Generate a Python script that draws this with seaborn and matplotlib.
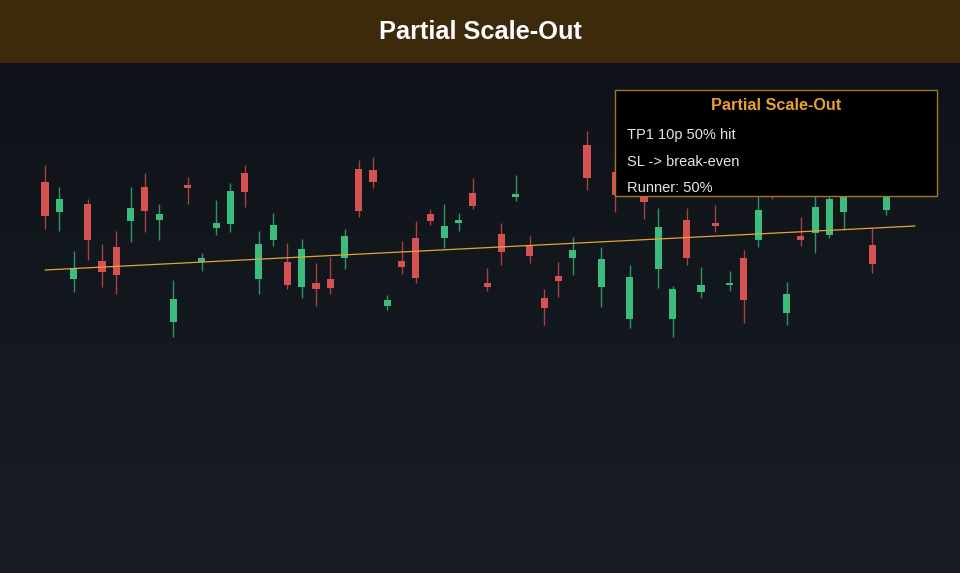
import numpy as np
import pandas as pd
import matplotlib
matplotlib.use("Agg")
import matplotlib.pyplot as plt
from matplotlib.patches import Rectangle
from matplotlib.colors import LinearSegmentedColormap
import seaborn as sns

# ---- data (price units) ----
opens = [111.8, 108.8, 102.1, 109.6, 103.9, 105.3, 107.9, 111.3, 108.0, 97.8,
         111.5, 103.8, 107.2, 107.6, 112.7, 102.1, 106.0, 103.8, 101.3, 101.7,
         102.1, 104.2, 113.1, 113.0, 99.4, 103.9, 106.2, 108.6, 106.2, 107.7,
         110.7, 101.7, 106.6, 110.3, 105.5, 100.2, 102.4, 104.2, 115.5, 101.3,
         112.8, 98.1, 111.0, 103.1, 98.1, 108.0, 100.8, 107.7, 101.5, 104.2,
         106.0, 113.5, 98.7, 106.4, 106.7, 106.5, 108.8, 116.0, 105.5, 109.0,
         113.0, 116.5]
closes = [108.4, 110.1, 103.2, 106.0, 102.8, 102.5, 109.2, 108.9, 108.6, 100.1,
          111.2, 104.2, 107.7, 110.9, 110.8, 105.6, 107.5, 101.5, 105.1, 101.1,
          101.2, 106.4, 108.9, 111.8, 100.0, 103.3, 102.2, 107.9, 107.4, 108.0,
          109.4, 101.3, 104.8, 110.6, 104.4, 99.2, 101.9, 105.0, 112.2, 104.1,
          110.5, 102.3, 109.8, 107.3, 101.1, 104.2, 101.5, 107.4, 101.7, 100.0,
          109.0, 111.2, 100.6, 106.0, 109.3, 110.1, 111.5, 113.5, 103.6, 111.2,
          115.5, 114.0]
highs = [113.5, 111.3, 104.9, 110.1, 105.6, 106.9, 111.3, 112.7, 109.6, 102.0,
         112.3, 104.7, 110.0, 111.7, 113.5, 106.9, 108.7, 105.7, 106.1, 103.7,
         104.3, 107.1, 114.0, 114.3, 100.5, 105.9, 107.9, 109.1, 109.6, 108.7,
         112.2, 103.2, 107.7, 112.5, 106.4, 101.1, 103.8, 106.3, 116.9, 105.3,
         114.0, 103.5, 112.0, 109.2, 101.4, 109.2, 103.3, 109.5, 102.9, 105.0,
         111.0, 114.5, 101.8, 108.3, 111.0, 110.4, 113.0, 117.5, 107.2, 112.5,
         117.0, 118.0]
lows = [107.1, 106.9, 100.8, 104.0, 101.3, 100.6, 105.8, 106.8, 106.0, 96.3,
        109.6, 102.9, 106.5, 106.8, 109.3, 100.6, 105.4, 101.1, 100.2, 99.4,
        100.6, 103.1, 108.3, 111.2, 99.0, 102.6, 101.7, 107.5, 105.2, 106.9,
        109.1, 100.9, 103.5, 109.9, 103.7, 97.5, 100.3, 102.5, 111.0, 99.3,
        108.8, 97.2, 108.1, 101.2, 96.3, 103.5, 100.2, 106.8, 100.9, 97.7,
        105.3, 110.1, 97.5, 105.4, 104.7, 106.2, 107.0, 112.0, 102.7, 108.5,
        111.5, 112.2]
trend_ends = [103.0, 107.4]  # start / end level of the trend line
chart_title = "Partial Scale-Out"
box_title = "Partial Scale-Out"
box_lines = ["TP1 10p 50% hit", "SL -> break-even", "Runner: 50%"]

df = pd.DataFrame({"open": opens, "high": highs, "low": lows, "close": closes})
df["idx"] = np.arange(len(df))

GREEN = "#3dbd7d"
RED = "#d65252"

sns.set_theme(style="dark")
plt.rcParams["font.family"] = ["Liberation Sans", "DejaVu Sans"]

W, H = 9.6, 5.73
fig = plt.figure(figsize=(W, H), dpi=100)
fig.patch.set_facecolor("#151922")

# header band
hdr = fig.add_axes([0, 1 - 63 / 573, 1, 63 / 573])
hdr.set_axis_off()
hdr.add_patch(Rectangle((0, 0), 1, 1, transform=hdr.transAxes, color="#3d2a0d"))
hdr.text(0.5, 0.49, chart_title, ha="center", va="center", color="white",
         fontsize=18.3, fontweight="bold", transform=hdr.transAxes)

ax = fig.add_axes([0, 0, 1, 1 - 63 / 573])
ax.set_axis_off()
n = len(df)
px = 870 / (n - 1)
xmin = -45 / px
ax.set_xlim(xmin, xmin + 960 / px)
ax.set_ylim(72.7, 123.7)

# background gradient (darker at top, lighter at bottom)
cmap = LinearSegmentedColormap.from_list("bg", ["#0f1319", "#181c25"])
ax.imshow(np.linspace(0, 1, 256).reshape(-1, 1), aspect="auto", cmap=cmap,
          extent=[xmin, xmin + 960 / px, 72.7, 123.7], zorder=0)

for _, r in df.iterrows():
    up = r["close"] >= r["open"]
    c = GREEN if up else RED
    ax.vlines(r["idx"], r["low"], r["high"], color=c, lw=1.0, alpha=0.75, zorder=2)
    lo = min(r["open"], r["close"])
    hgt = max(abs(r["close"] - r["open"]), 0.2)
    ax.add_patch(Rectangle((r["idx"] - 0.25, lo), 0.5, hgt, facecolor=c,
                           edgecolor="none", zorder=3))

trend = pd.DataFrame({"idx": [0, n - 1], "val": trend_ends})
sns.lineplot(data=trend, x="idx", y="val", ax=ax, color="#e6a23a", lw=0.9, zorder=4)
ax.set_xlim(xmin, xmin + 960 / px)
ax.set_ylim(72.7, 123.7)
ax.set_axis_off()

# annotation box (figure pixel coords)
def fx(x):
    return x / 960
def fy(y):
    return 1 - y / 573

fig.patches.append(Rectangle((fx(615), fy(196)), fx(937) - fx(615), fy(90) - fy(196),
                             transform=fig.transFigure, facecolor="black",
                             edgecolor="#a8742a", lw=1.0, zorder=10))
fig.text(fx(776), fy(105), box_title, ha="center", va="center", color="#e8a030",
         fontsize=11.7, fontweight="bold", zorder=11)
for i, t in enumerate(box_lines):
    fig.text(fx(627), fy(135.5 + 26 * i), t, ha="left", va="center", color="#e6e6e6",
             fontsize=10.5, zorder=11)

fig.savefig("out.png", dpi=100, facecolor=fig.get_facecolor())
